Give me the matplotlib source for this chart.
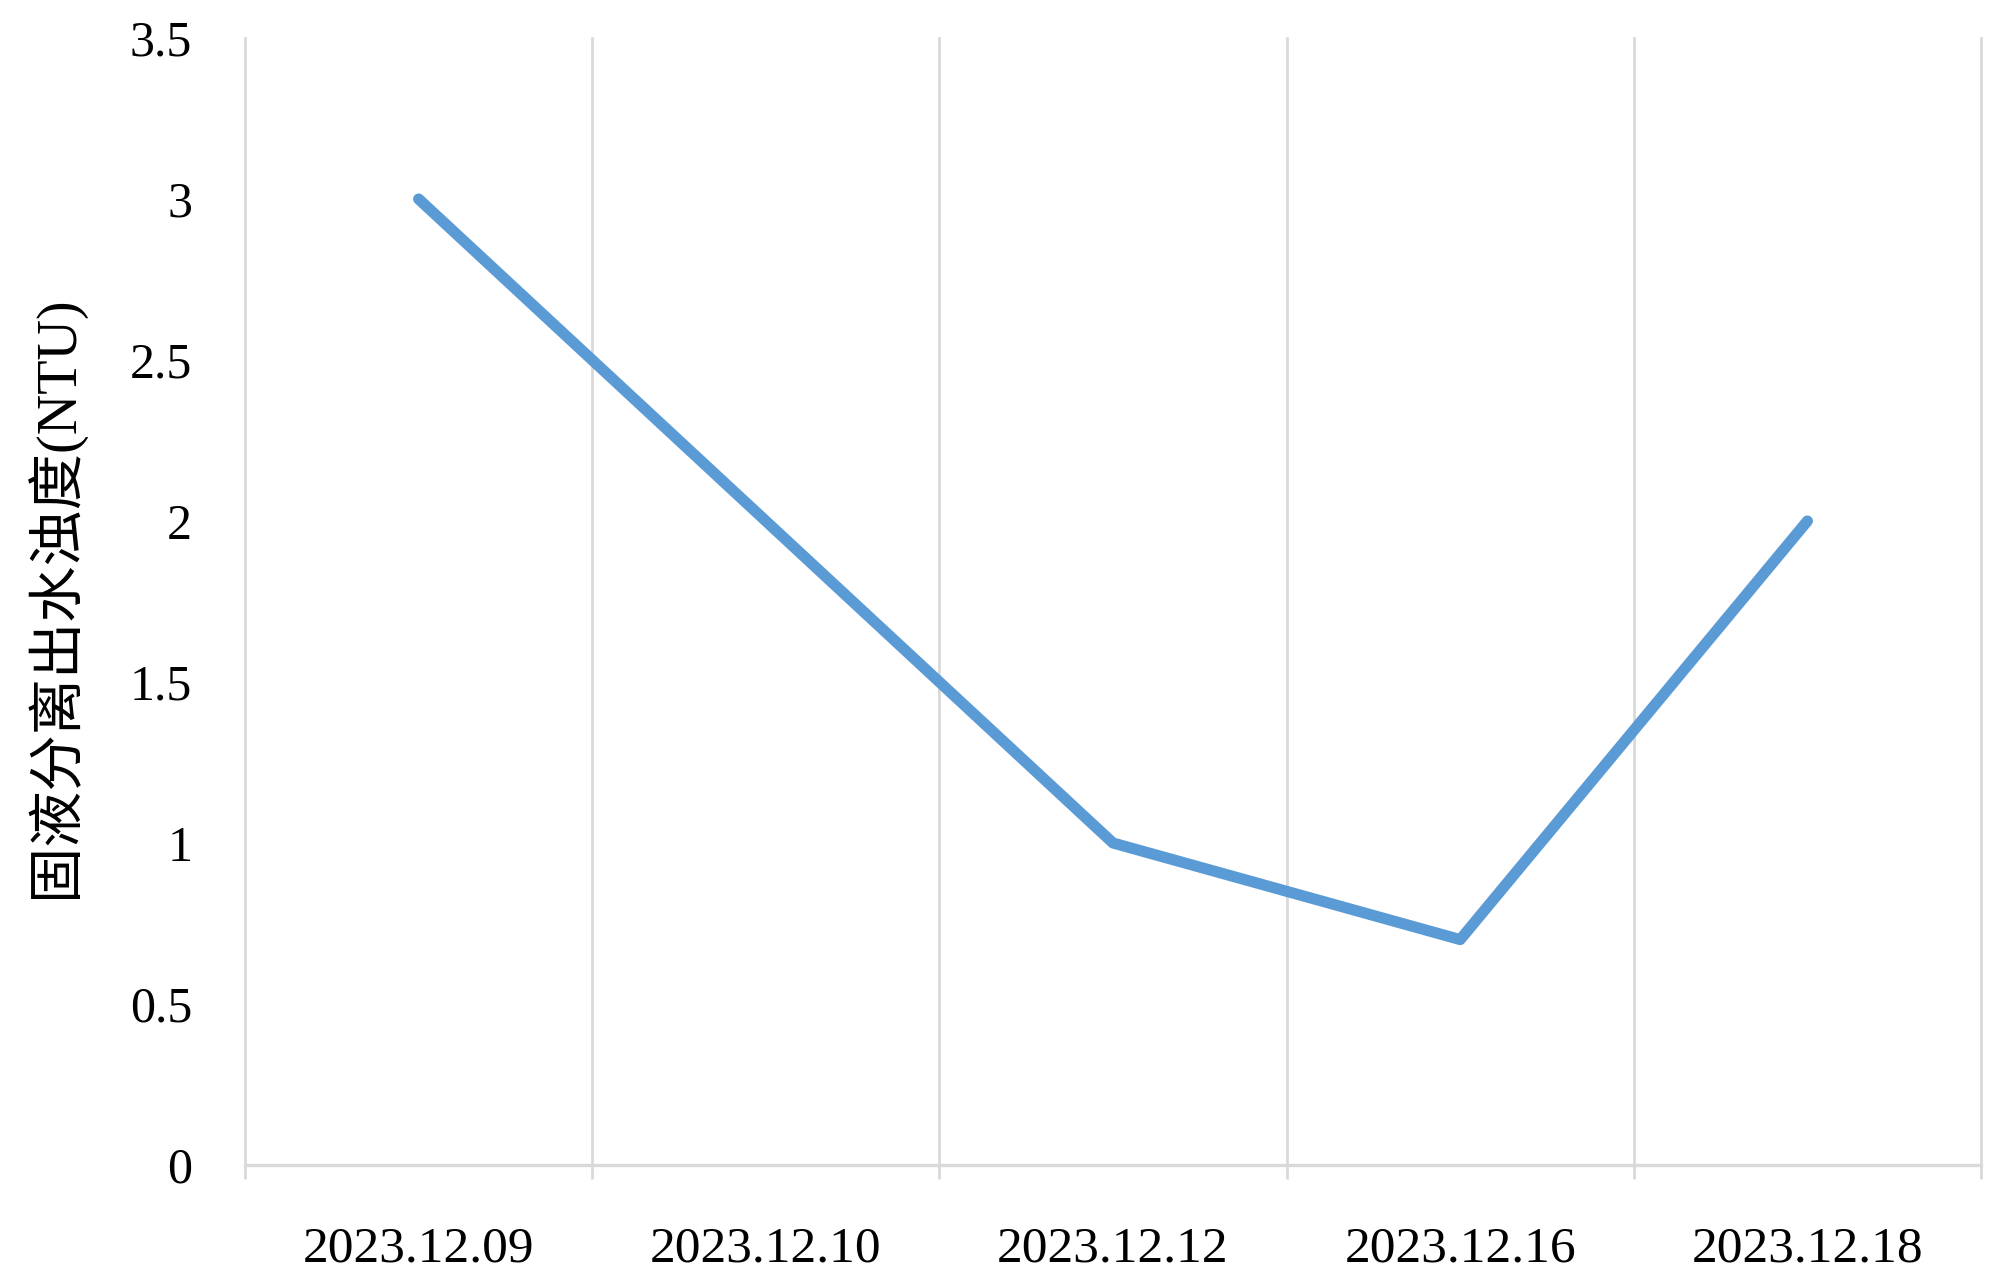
import matplotlib
matplotlib.use("Agg")
from matplotlib import pyplot as plt
import numpy as np

dates = ["2023.12.09", "2023.12.10", "2023.12.12", "2023.12.16", "2023.12.18"]
turbidity = [3.0, 2.0, 1.0, 0.7, 2.0]
y_ticks = [0, 0.5, 1, 1.5, 2, 2.5, 3, 3.5]
y_label = "固液分离出水浊度(NTU)"

grid_color = "#d9d9d9"
line_color = "#5b9bd5"

fig = plt.figure(figsize=(20, 12.81), dpi=100)
ax = fig.add_axes([245 / 2000, 1 - 1165 / 1281, 1736 / 2000, 1127 / 1281])

x = np.arange(len(dates)) + 0.5
ax.plot(x, turbidity, color=line_color, lw=8, solid_capstyle="round", solid_joinstyle="round", zorder=3)

ax.set_xlim(0, len(dates))
ax.set_ylim(0, 3.5)

# category boundaries as vertical gridlines, extending below the axis as ticks
bounds = np.arange(len(dates) + 1)
ax.set_xticks(bounds, minor=True)
ax.set_xticks(x)
ax.set_xticklabels(dates, fontsize=37, family="Liberation Serif")
ax.tick_params(axis="x", which="major", length=0, pad=44)
ax.tick_params(axis="x", which="minor", length=10, width=2, color=grid_color)
for b in bounds:
    ax.axvline(b, color=grid_color, lw=2, zorder=1, clip_on=False)

ax.set_yticks(y_ticks)
ax.set_yticklabels([f"{v:g}" for v in y_ticks], fontsize=36, family="Liberation Serif")
ax.tick_params(axis="y", length=0, pad=38)

for side in ["top", "right", "left"]:
    ax.spines[side].set_visible(False)
ax.spines["bottom"].set_color(grid_color)
ax.spines["bottom"].set_linewidth(2.4)
ax.spines["bottom"].set_zorder(2)

fig.text(55 / 2000, 1 - 597 / 1281, y_label, rotation=90, ha="center", va="center",
         fontsize=40.5, family=["Liberation Serif", "Noto Sans CJK SC"])

fig.savefig("out.png", dpi=100)
